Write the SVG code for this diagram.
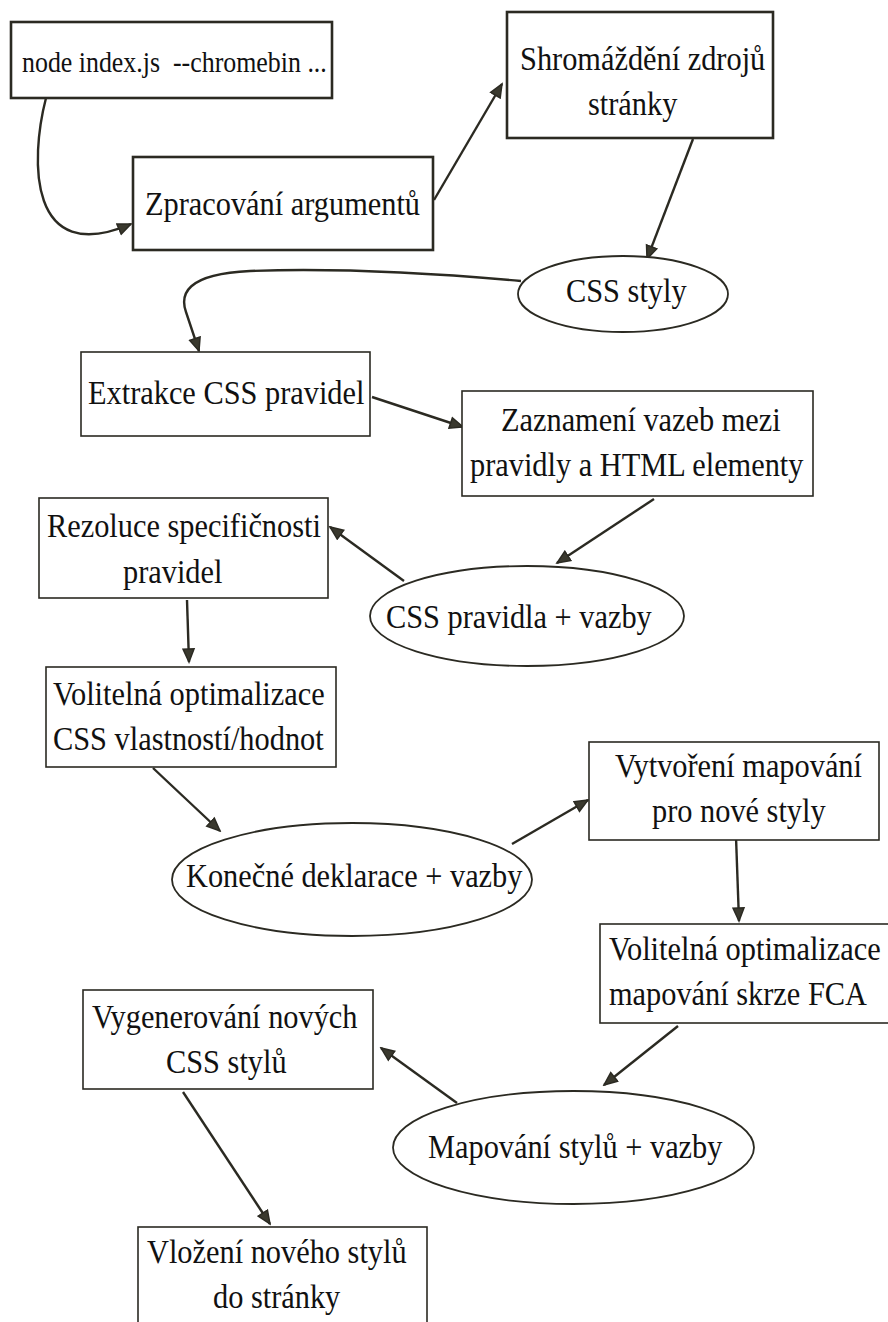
<svg xmlns="http://www.w3.org/2000/svg" width="888" height="1322" viewBox="0 0 888 1322">
<style>
.bx{fill:#fff;stroke:#2b2a22;stroke-width:1.6}
.bt{fill:#fff;stroke:#2b2a22;stroke-width:2.6}
.el{fill:#fff;stroke:#2b2a22;stroke-width:1.8}
.t{font-family:"Liberation Serif","Times New Roman",serif;font-size:34px;fill:#111}
.s{font-size:30px}
.c path{fill:none;stroke:#2b2a22;stroke-width:2.4;marker-end:url(#ah)}
</style>
<defs>
<marker id="ah" markerUnits="userSpaceOnUse" markerWidth="16" markerHeight="14" viewBox="0 0 16 14" refX="14" refY="7" orient="auto">
<path d="M1,1.5 L14,7 L1,12.5 Z" fill="#3a392e" stroke="#2b2a22" stroke-width="1.5"/>
</marker>
</defs>
<rect width="888" height="1322" fill="#fff"/>
<g class="c" id="connectors">
<path d="M46,98 C30,160 28,268 131,224"/>
<path d="M434,200 L502,84"/>
<path d="M693,139 L647,259"/>
<path d="M521,281 C420,272 330,268 250,271 C185,274 180,295 186,312 L199,351"/>
<path d="M372,397 L463,427"/>
<path d="M654,499 L557,563"/>
<path d="M404,581 L330,527"/>
<path d="M187,600 L189,662"/>
<path d="M153,768 L220,831"/>
<path d="M512,844 L588,800"/>
<path d="M736,837 L739,921"/>
<path d="M678,1026 L604,1085"/>
<path d="M457,1103 L381,1048"/>
<path d="M183,1092 L270,1224"/>
</g>
<g id="n1"><rect class="bt" x="11" y="22" width="321" height="76"/><text class="t s" transform="matrix(0.863 0 0 1 22 72)" xml:space="preserve">node index.js  --chromebin ...</text></g>
<g id="n2"><rect class="bt" x="133" y="157" width="300" height="93"/><text class="t" transform="matrix(0.893 0 0 1 145 215)">Zpracování argumentů</text></g>
<g id="n3"><rect class="bt" x="507" y="12" width="266" height="126"/><text class="t" transform="matrix(0.893 0 0 1 520 70)">Shromáždění zdrojů</text><text class="t" transform="matrix(0.893 0 0 1 588 115)">stránky</text></g>
<g id="n4"><ellipse class="el" cx="623" cy="294" rx="105" ry="38"/><text class="t" transform="matrix(0.893 0 0 1 566 302)">CSS styly</text></g>
<g id="n5"><rect class="bx" x="81" y="352" width="289" height="84"/><text class="t" transform="matrix(0.893 0 0 1 88 404)">Extrakce CSS pravidel</text></g>
<g id="n6"><rect class="bx" x="462" y="391" width="351" height="105"/><text class="t" transform="matrix(0.893 0 0 1 501 431)">Zaznamení vazeb mezi</text><text class="t" transform="matrix(0.893 0 0 1 470 476)">pravidly a HTML elementy</text></g>
<g id="n7"><rect class="bx" x="39" y="498" width="289" height="100"/><text class="t" transform="matrix(0.893 0 0 1 47 537)">Rezoluce specifičnosti</text><text class="t" transform="matrix(0.893 0 0 1 123 583)">pravidel</text></g>
<g id="n8"><ellipse class="el" cx="527" cy="616" rx="157" ry="50"/><text class="t" transform="matrix(0.893 0 0 1 386 628)">CSS pravidla + vazby</text></g>
<g id="n9"><rect class="bx" x="46" y="667" width="290" height="100"/><text class="t" transform="matrix(0.893 0 0 1 53 705)">Volitelná optimalizace</text><text class="t" transform="matrix(0.893 0 0 1 53 750)">CSS vlastností/hodnot</text></g>
<g id="n10"><ellipse class="el" cx="352" cy="879.5" rx="180" ry="56.5"/><text class="t" transform="matrix(0.893 0 0 1 186 887)">Konečné deklarace + vazby</text></g>
<g id="n11"><rect class="bx" x="589" y="742" width="290" height="98"/><text class="t" transform="matrix(0.893 0 0 1 615 777)">Vytvoření mapování</text><text class="t" transform="matrix(0.893 0 0 1 652 822)">pro nové styly</text></g>
<g id="n12"><rect class="bx" x="600" y="924" width="292" height="99"/><text class="t" transform="matrix(0.893 0 0 1 609 960)">Volitelná optimalizace</text><text class="t" transform="matrix(0.893 0 0 1 609 1005)">mapování skrze FCA</text></g>
<g id="n13"><rect class="bx" x="83" y="990" width="290" height="99"/><text class="t" transform="matrix(0.893 0 0 1 92 1028)">Vygenerování nových</text><text class="t" transform="matrix(0.893 0 0 1 166 1073)">CSS stylů</text></g>
<g id="n14"><ellipse class="el" cx="573.5" cy="1147.5" rx="180.5" ry="56.5"/><text class="t" transform="matrix(0.893 0 0 1 428 1158)">Mapování stylů + vazby</text></g>
<g id="n15"><rect class="bx" x="138" y="1227" width="289" height="110"/><text class="t" transform="matrix(0.893 0 0 1 147 1263)">Vložení nového stylů</text><text class="t" transform="matrix(0.893 0 0 1 213 1308)">do stránky</text></g>
</svg>
